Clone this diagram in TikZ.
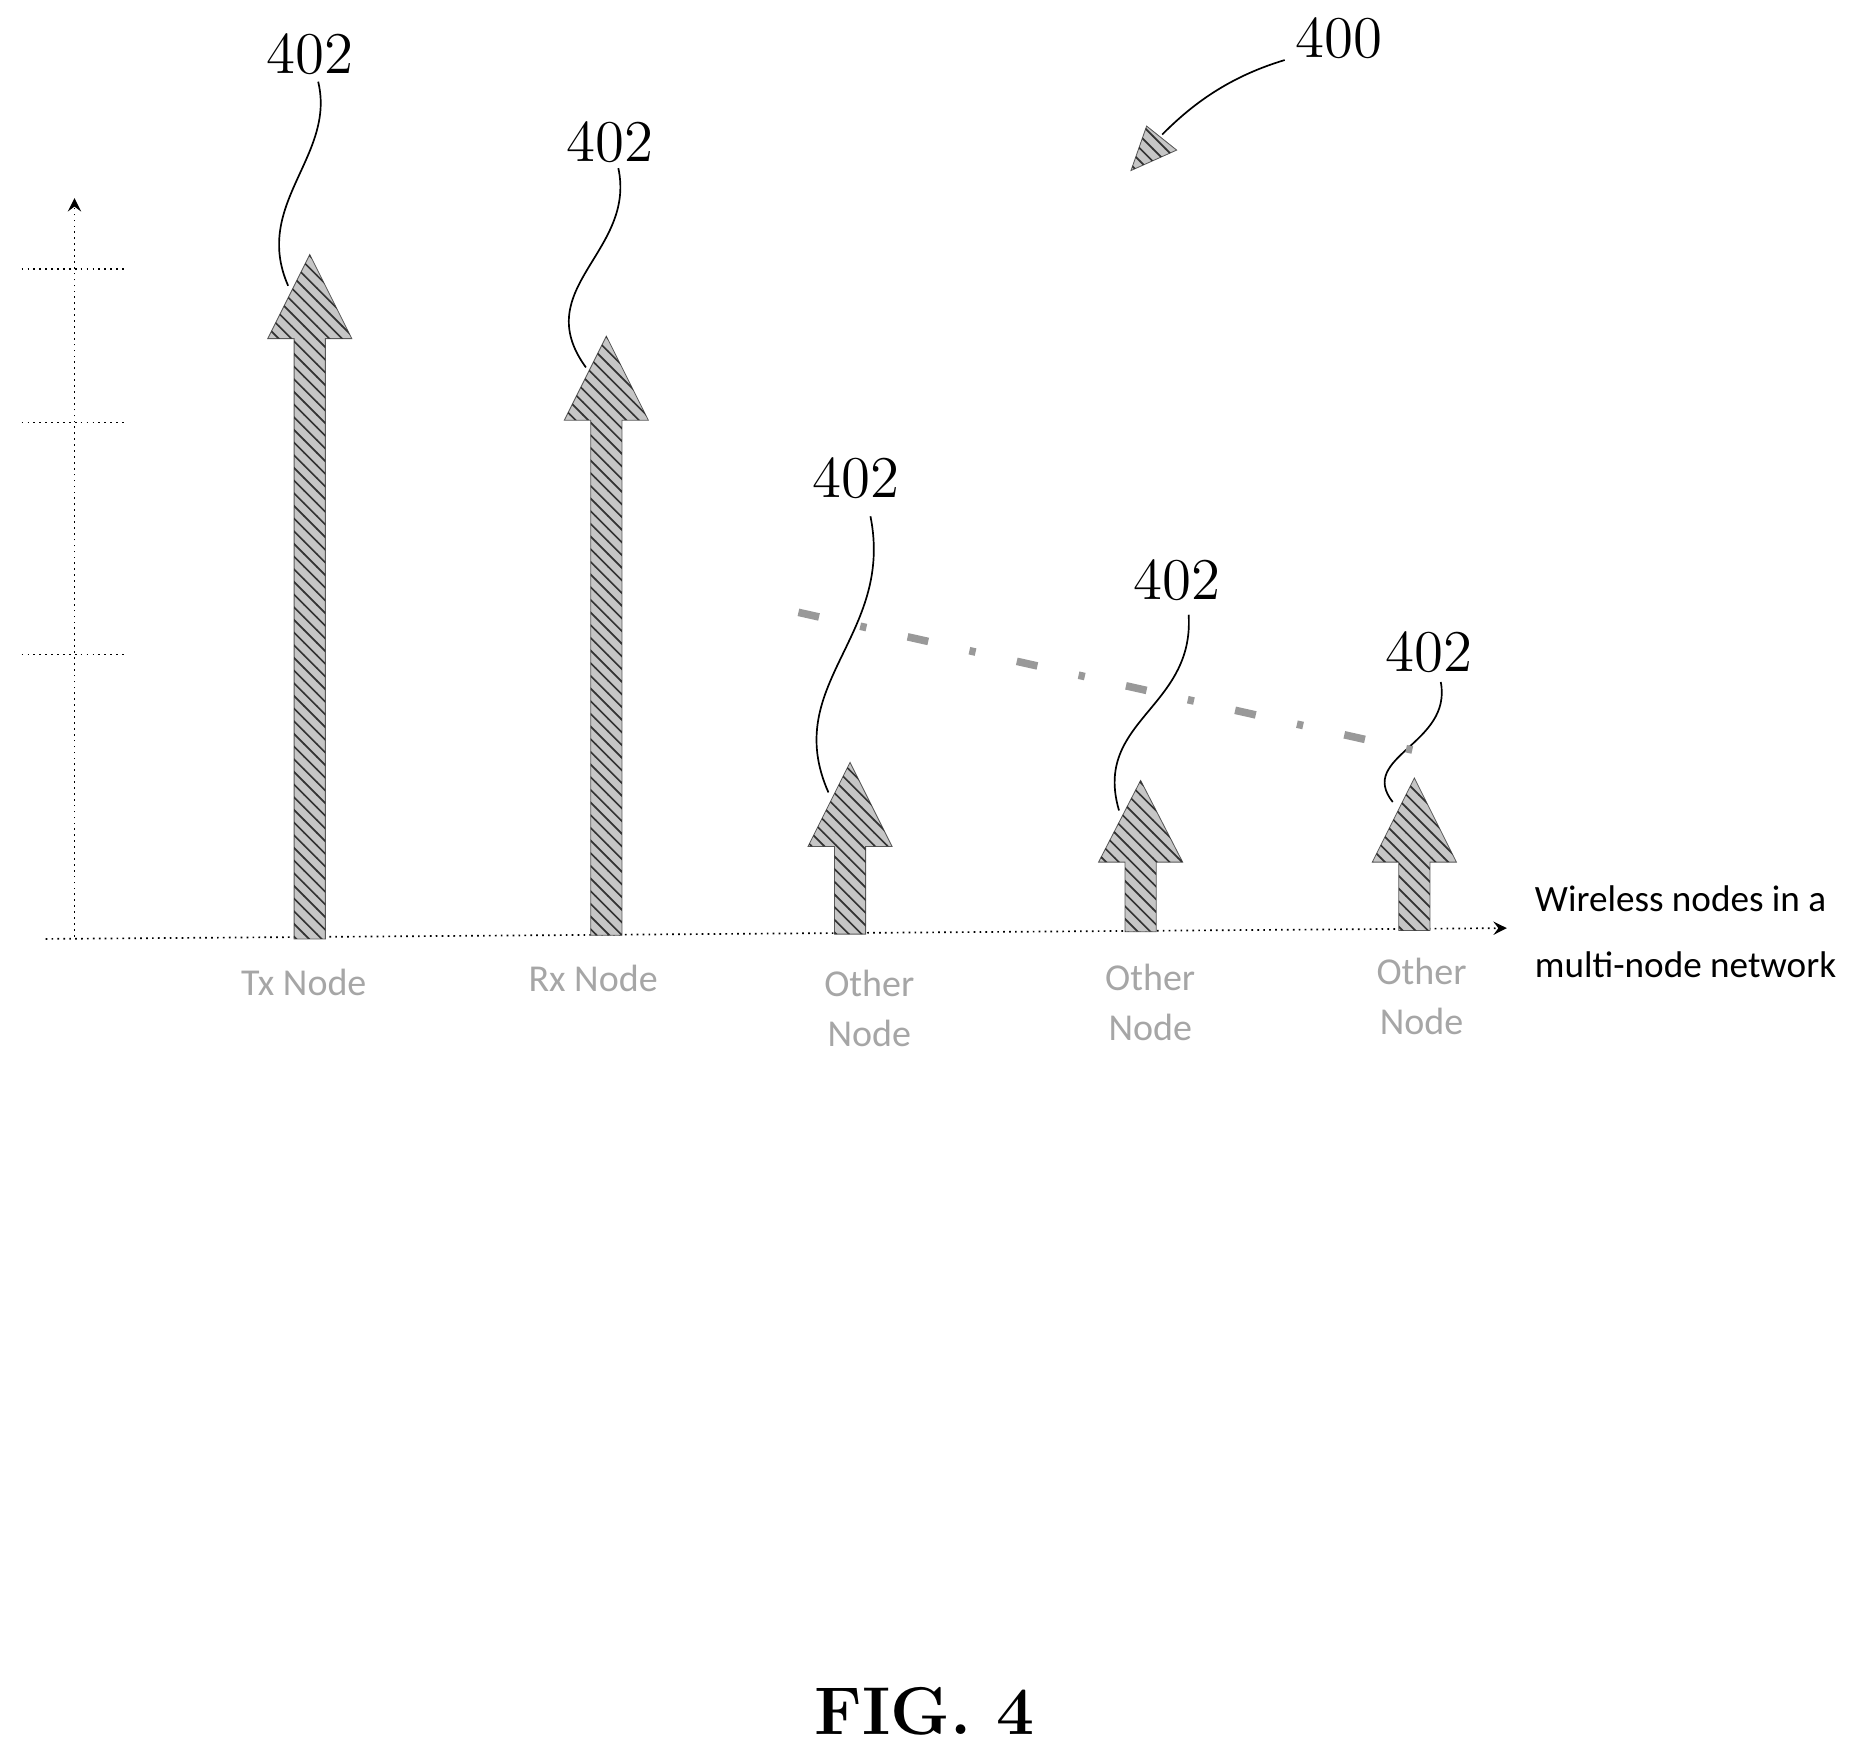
\documentclass[tikz,border=0pt]{standalone}
\usepackage{fontspec}
\newfontfamily\calib{Carlito}
\usetikzlibrary{shapes,arrows,patterns,positioning}

\begin{document}
\begin{tikzpicture}[x=0.01cm,y=-0.01cm]
			\tikzstyle{Axis}	= [densely dotted, thin, ->, >=stealth]
			\tikzstyle{Tick}	= [densely dotted, thin]
			\tikzstyle{Bar}		= [draw=gray!70!black, very thin, fill=gray!45, postaction={pattern=north west lines, pattern color=black!80}]
			\tikzstyle{Ref}		= [font=\fontsize{14}{17}\selectfont]
			\tikzstyle{Lead}	= [thin]
			\tikzstyle{Name}	= [font=\calib\fontsize{9}{12}\selectfont, text=gray!70, align=center]

			\useasboundingbox (0,0) rectangle (1560,1453);

			% axes
			\coordinate (o) at (62,780);
			\coordinate (ytop) at (62,165);
			\coordinate (xs) at (38,782);
			\coordinate (xe) at (1255,773);
			\draw [Axis] (o) -- (ytop);
			\draw [Axis] (xs) -- (xe);
			\foreach \y in {224,352,545}
				\draw [Tick] (18,\y) -- (105,\y);
			\node (xlab) at (1266,776) [anchor=west, font=\calib\fontsize{8.8}{15.5}\selectfont, align=left] {Wireless nodes in a\\multi-node network};

			% bars: x, tip, head base, bottom
			\foreach \x/\t/\b/\e [count=\i] in {258/212/282/782, 505/280/350/779, 708/635/705/778, 950/650/718/776, 1178/648/718/775}
				\draw [Bar] (\x-13,\e) -- (\x-13,\b) -- (\x-35,\b) -- (\x,\t) -- (\x+35,\b) -- (\x+13,\b) -- (\x+13,\e) -- cycle;

			\node (n1) at (253,818) [Name] {Tx Node};
			\node (n2) at (494,815) [Name] {Rx Node};
			\node (n3) at (724,840) [Name] {Other\\Node};
			\node (n4) at (958,835) [Name] {Other\\Node};
			\node (n5) at (1184,830) [Name] {Other\\Node};

			% reference numerals
			\node (r1) at (258,45) [Ref] {402};
			\node (r2) at (508,118) [Ref] {402};
			\node (r3) at (713,398) [Ref] {402};
			\node (r4) at (980,483) [Ref] {402};
			\node (r5) at (1190,543) [Ref] {402};
			\coordinate (t1) at (240,238);
			\coordinate (t2) at (488,306);
			\coordinate (t3) at (690,660);
			\coordinate (t4) at (932,675);
			\coordinate (t5) at (1160,668);
			\draw [Lead] (265,68) .. controls (280,130) and (210,170) .. (t1);
			\draw [Lead] (515,140) .. controls (530,210) and (440,240) .. (t2);
			\draw [Lead] (725,430) .. controls (745,530) and (650,570) .. (t3);
			\draw [Lead] (990,512) .. controls (995,590) and (910,600) .. (t4);
			\draw [Lead] (1200,568) .. controls (1210,620) and (1130,630) .. (t5);

			% trend line
			\draw [gray!80, line width=1.8pt, dash pattern=on 5pt off 10pt on 1.5pt off 10pt] (665,510) -- (1200,630);

			% figure number
			\node (r0) at (1115,32) [Ref] {400};
			\coordinate (a0) at (942,142);
			\draw [thin] (1070,50) .. controls (1020,65) and (990,90) .. (968,112);
			\draw [Bar] (980,125) -- (a0) -- (955,105) -- cycle;

			\node (fig) at (770,1425) [font=\bfseries\fontsize{16}{20}\selectfont] {FIG. 4};
\end{tikzpicture}
\end{document}
